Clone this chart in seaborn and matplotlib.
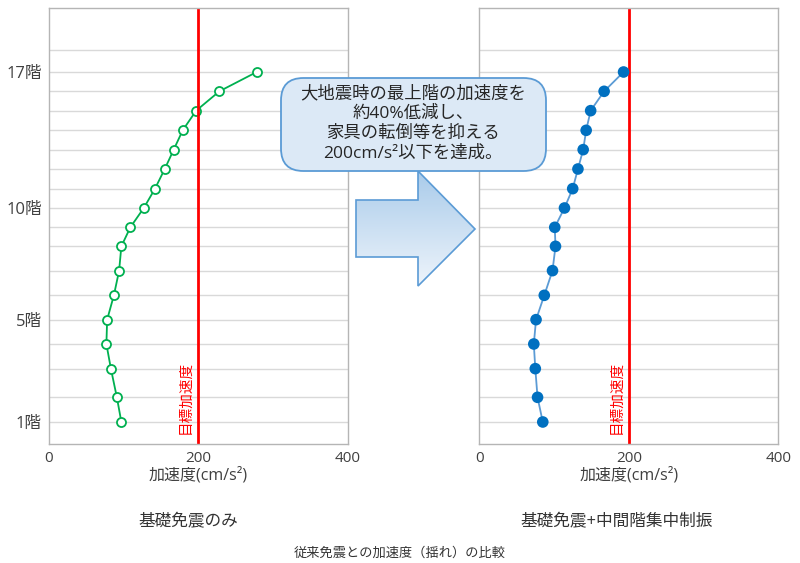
import numpy as np
import pandas as pd
import seaborn as sns
import matplotlib.pyplot as plt
from matplotlib.patches import FancyBboxPatch, Polygon

sns.set_style("white")
plt.rcParams['font.family'] = ['Open Sans', 'Noto Sans CJK JP', 'DejaVu Sans']

# floor levels (height units) and accelerations
floors = list(range(1, 18))
level_height = [6.6, 14.0, 22.6, 30.0, 37.3, 44.6, 52.0, 59.3, 65.0, 70.8,
                76.6, 82.5, 88.3, 94.1, 100.0, 105.8, 111.6]
roof_height = 118.3
accel_base = [97, 91, 83, 77, 78, 87, 94, 97, 109, 127,
              142, 155, 167, 179, 197, 228, 278]
accel_damped = [85, 78, 75, 73, 76, 87, 98, 102, 101, 114,
                125, 132, 139, 143, 149, 167, 193]
label_floors = [1, 5, 10, 17]
target_accel = 200

df = pd.DataFrame({"floor": floors, "height": level_height,
                   "base": accel_base, "damped": accel_damped})

fig = plt.figure(figsize=(8, 5.63), dpi=100)
ax1 = fig.add_axes([0.061, 0.2114, 0.374, 0.7744])
ax2 = fig.add_axes([0.599, 0.2114, 0.374, 0.7744])

sns.lineplot(data=df, x="base", y="height", orient="y", ax=ax1, color="#00b050",
             lw=1.3, marker="o", markersize=6.5, markerfacecolor="white",
             markeredgecolor="#00b050", markeredgewidth=1.3)
sns.lineplot(data=df, x="damped", y="height", orient="y", ax=ax2,
             color="#5b9bd5", lw=1.3)
sns.scatterplot(data=df, x="damped", y="height", ax=ax2, color="#0070c0",
                s=70, edgecolor="none", zorder=3)

grid_levels = level_height + [roof_height]
for ax in (ax1, ax2):
    ax.set_xlim(0, 400)
    ax.set_ylim(0, 130.8)
    ax.set_xticks([0, 200, 400])
    ax.set_yticks(grid_levels, minor=True)
    ax.set_yticks([level_height[f - 1] for f in label_floors])
    ax.grid(axis="y", which="both", color="#d9d9d9", lw=1)
    ax.set_axisbelow(True)
    ax.tick_params(which="both", length=0, labelsize=11, colors="#404040")
    ax.tick_params(axis="y", labelsize=12, pad=5)
    ax.tick_params(axis="x", pad=5)
    for s in ax.spines.values():
        s.set_color("#b5b5b5")
        s.set_linewidth(1)
    ax.axvline(target_accel, color="#ff0000", lw=2)
    ax.text(183, 3, "目標加速度", color="#ff0000", rotation=90, fontsize=10.5,
            ha="center", va="bottom", family=['Noto Sans CJK JP'])
    ax.set_xlabel("加速度(cm/s²)", fontsize=11.5, color="#404040", labelpad=1)
    ax.set_ylabel("")

ax1.set_yticklabels([f"{f}階" for f in label_floors])
ax2.set_yticklabels([])

fig.text(0.235, 0.073, "基礎免震のみ", fontsize=12, color="#333333",
         ha="center", va="center")
fig.text(0.771, 0.073, "基礎免震+中間階集中制振", fontsize=12, color="#333333",
         ha="center", va="center")
fig.text(0.5, 0.018, "従来免震との加速度（揺れ）の比較", fontsize=9.5,
         color="#333333", ha="center", va="center")

# block arrow with gradient fill
W, H = 800, 563
arrow_px = [(356, 200), (418, 200), (418, 171), (475, 229),
            (418, 286), (418, 257), (356, 257)]
arrow_pts = [(x / W, 1 - y / H) for x, y in arrow_px]
arrow = Polygon(arrow_pts, closed=True, transform=fig.transFigure,
                facecolor="none", edgecolor="#5b9bd5", lw=1.2, zorder=6)
grad_ax = fig.add_axes([356 / W, 1 - 286 / H, (475 - 356) / W, (286 - 171) / H])
grad_ax.axis("off")
grad = np.linspace(0, 1, 100).reshape(-1, 1)
cmap = sns.blend_palette(["#a9cbea", "#eef4fb"], as_cmap=True)
img = grad_ax.imshow(grad, aspect="auto", cmap=cmap, extent=[0, 1, 0, 1],
                     origin="upper")
clip = Polygon(arrow_pts, closed=True, transform=fig.transFigure)
img.set_clip_path(clip)
fig.patches.append(arrow)

# callout box
box = FancyBboxPatch((281 / W, 1 - 171 / H), (546 - 281) / W, (171 - 78) / H,
                     boxstyle="round,pad=0,rounding_size=0.028",
                     transform=fig.transFigure, facecolor="#dce9f6",
                     edgecolor="#5b9bd5", lw=1.3, zorder=7,
                     mutation_aspect=800 / 563)
fig.patches.append(box)
fig.text(413 / W, 1 - 124 / H,
         "大地震時の最上階の加速度を\n約40%低減し、\n家具の転倒等を抑える\n200cm/s²以下を達成。",
         fontsize=12.5, color="#262626", ha="center", va="center",
         linespacing=1.3, zorder=8)

fig.savefig("out.png", dpi=100)
